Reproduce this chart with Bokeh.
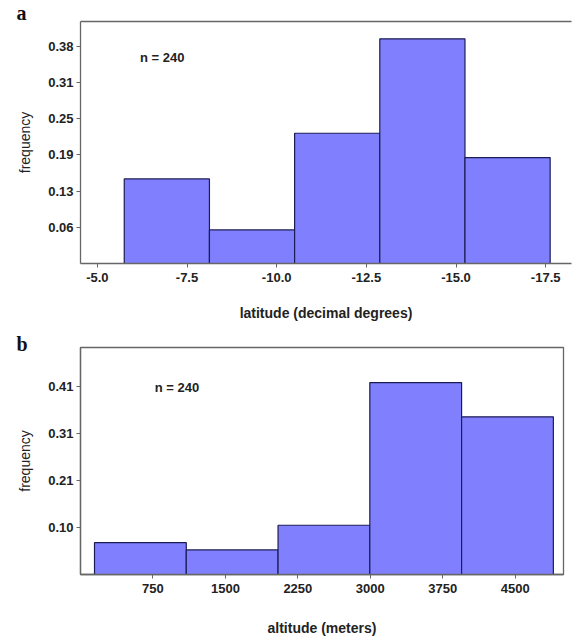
from bokeh.plotting import figure
from bokeh.layouts import column
from bokeh.models import Range1d, FixedTicker, LinearAxis, Label, Title
from bokeh.embed import file_html
from bokeh.resources import INLINE

# ---- data ----
lat_edges = [-5.75, -8.125, -10.5, -12.875, -15.25, -17.625]
lat_freq = [0.146, 0.058, 0.225, 0.388, 0.183]
lat_ticks = [-5.0, -7.5, -10.0, -12.5, -15.0, -17.5]
lat_yticks = [0.0625, 0.125, 0.1875, 0.25, 0.3125, 0.375]
lat_ylabels = ["0.06", "0.13", "0.19", "0.25", "0.31", "0.38"]

alt_edges = [145, 1095, 2045, 2995, 3945, 4895]
alt_freq = [0.070, 0.054, 0.108, 0.421, 0.346]
alt_ticks = [750, 1500, 2250, 3000, 3750, 4500]
alt_yticks = [0.1033, 0.2067, 0.31, 0.4133]
alt_ylabels = ["0.10", "0.21", "0.31", "0.41"]

n_text = "n = 240"

FILL = "#8080ff"
EDGE = "#1c1c55"
AXC = "#666666"
TXT = "#222222"
FONT = "Liberation Sans"


def style(p, xlabel):
    for ax in (p.xaxis[0], p.yaxis[0]):
        ax.axis_line_color = AXC
        ax.axis_line_width = 1.3
        ax.major_tick_line_color = AXC
        ax.major_tick_out = 4
        ax.major_tick_in = 0
        ax.minor_tick_line_color = None
        ax.major_label_text_font = FONT
        ax.major_label_text_font_size = "13px"
        ax.major_label_text_font_style = "bold"
        ax.major_label_text_color = TXT
        ax.axis_label_text_font = FONT
        ax.axis_label_text_color = TXT
        ax.axis_label_text_font_size = "14px"
    p.xaxis[0].axis_label = xlabel
    p.xaxis[0].axis_label_text_font_style = "bold"
    p.xaxis[0].axis_label_standoff = 20
    p.xaxis[0].major_label_standoff = 5
    p.yaxis[0].axis_label = "frequency"
    p.yaxis[0].axis_label_text_font_style = "normal"
    p.yaxis[0].axis_label_standoff = 12
    p.yaxis[0].major_label_standoff = 3
    p.xgrid.grid_line_color = None
    p.ygrid.grid_line_color = None
    p.outline_line_color = None
    p.background_fill_color = "white"
    p.border_fill_color = "white"


def panel_letter(letter, standoff):
    return Title(text=letter, align="left", offset=-64, standoff=standoff,
                 text_font="Liberation Serif", text_font_size="20px",
                 text_font_style="bold", text_color="#111111")


# ---- panel a ----
pa = figure(width=574, height=330, output_backend="svg", toolbar_location=None,
            x_range=Range1d(-4.53, -18.22), y_range=Range1d(0, 0.418),
            title=panel_letter("a", -5),
            min_border_left=78, min_border_right=0, min_border_top=21, min_border_bottom=67)
pa.quad(left=lat_edges[:-1], right=lat_edges[1:], bottom=0, top=lat_freq,
        fill_color=FILL, line_color=EDGE, line_width=1.2)
style(pa, "latitude (decimal degrees)")
pa.xaxis[0].ticker = FixedTicker(ticks=lat_ticks)
pa.xaxis[0].major_label_overrides = {t: f"{t:.1f}" for t in lat_ticks}
pa.yaxis[0].ticker = FixedTicker(ticks=lat_yticks)
pa.yaxis[0].major_label_overrides = dict(zip(lat_yticks, lat_ylabels))
top_a = LinearAxis(ticker=FixedTicker(ticks=[]), major_label_text_font_size="0px",
                   axis_line_color=AXC, axis_line_width=1.3, minor_tick_line_color=None,
                   major_tick_line_color=None)
pa.add_layout(top_a, "above")
pa.add_layout(Label(x=-6.19, y=0.355, text=n_text,
                    text_font=FONT, text_font_size="13px", text_font_style="bold",
                    text_color=TXT, text_baseline="middle"))

# ---- panel b ----
pb = figure(width=566, height=308, output_backend="svg", toolbar_location=None,
            x_range=Range1d(0, 5000), y_range=Range1d(0, 0.498),
            title=panel_letter("b", -14),
            min_border_left=80, min_border_right=3, min_border_top=17, min_border_bottom=60)
pb.quad(left=alt_edges[:-1], right=alt_edges[1:], bottom=0, top=alt_freq,
        fill_color=FILL, line_color=EDGE, line_width=1.2)
style(pb, "altitude (meters)")
pb.outline_line_color = AXC
pb.outline_line_width = 1.3
pb.xaxis[0].ticker = FixedTicker(ticks=alt_ticks)
pb.xaxis[0].axis_label_standoff = 24
pb.yaxis[0].ticker = FixedTicker(ticks=alt_yticks)
pb.yaxis[0].major_label_overrides = dict(zip(alt_yticks, alt_ylabels))
pb.add_layout(Label(x=768, y=0.41, text=n_text,
                    text_font=FONT, text_font_size="13px", text_font_style="bold",
                    text_color=TXT, text_baseline="middle"))

layout = column(pa, pb, spacing=0)
open("out.html", "w").write(file_html(layout, INLINE))
